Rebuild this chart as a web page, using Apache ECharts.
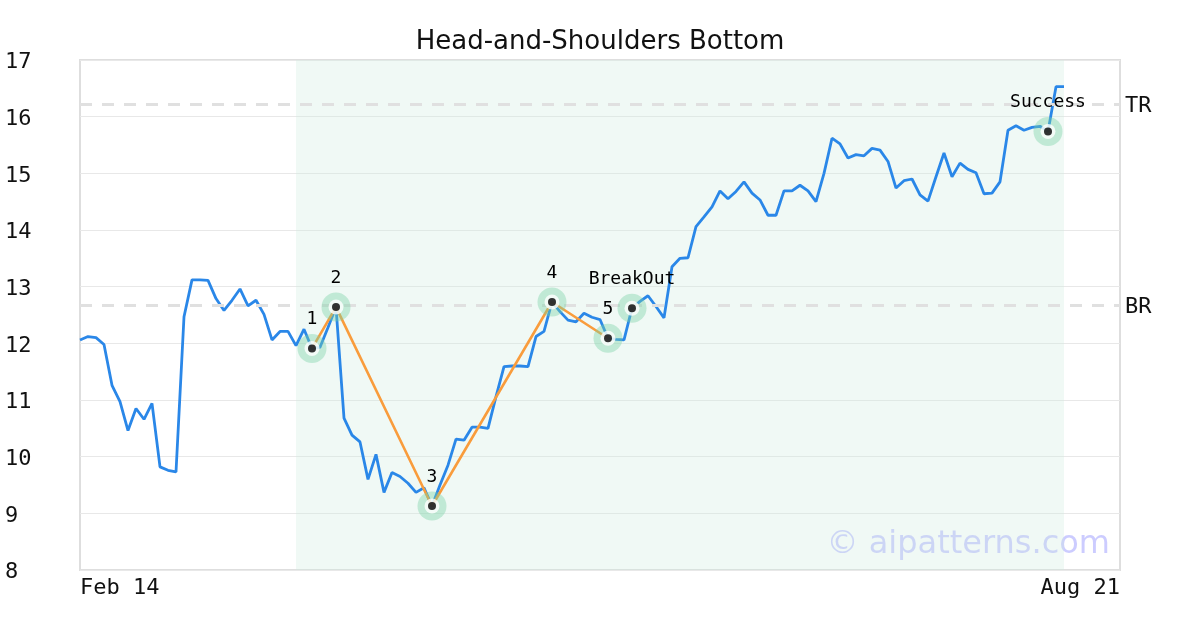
<!DOCTYPE html>
<html>
<head>
<meta charset="utf-8">
<script src="https://cdn.jsdelivr.net/npm/echarts@6/dist/echarts.min.js"></script>
<style>html,body{margin:0;padding:0;background:#fff}#c{width:1200px;height:630px}</style>
</head>
<body>
<div id="c"></div>
<script>
// x positions are trading-day indices 0..130 (axis spans Feb 14 .. Aug 21)
var xTickLabels = ['Feb 14', 'Aug 21'];
var xMax = 130;
var yMin = 8, yMax = 17;

var prices = [
  12.06, 12.12, 12.10, 11.98, 11.26, 10.97, 10.46, 10.85, 10.66, 10.94,
  9.82, 9.76, 9.73, 12.47, 13.12, 13.12, 13.11, 12.79, 12.58, 12.76,
  12.96, 12.66, 12.76, 12.51, 12.06, 12.21, 12.21, 11.96, 12.25, 11.91,
  11.93, 12.28, 12.64, 10.68, 10.38, 10.26, 9.60, 10.04, 9.37, 9.72,
  9.65, 9.53, 9.37, 9.45, 9.13, 9.50, 9.85, 10.31, 10.29, 10.52,
  10.52, 10.50, 11.06, 11.59, 11.60, 11.60, 11.59, 12.12, 12.21, 12.73,
  12.56, 12.41, 12.38, 12.53, 12.46, 12.42, 12.09, 12.07, 12.06, 12.62,
  12.74, 12.84, 12.65, 12.45, 13.35, 13.50, 13.51, 14.06, 14.23, 14.41,
  14.69, 14.55, 14.68, 14.85, 14.65, 14.53, 14.26, 14.26, 14.69, 14.69,
  14.79, 14.69, 14.50, 15.00, 15.62, 15.52, 15.27, 15.33, 15.31, 15.44,
  15.41, 15.21, 14.74, 14.87, 14.90, 14.62, 14.51, 14.94, 15.36, 14.94,
  15.18, 15.07, 15.01, 14.64, 14.65, 14.85, 15.76, 15.84, 15.76, 15.81,
  15.83, 15.74, 16.53, 16.53
];

var patternIdx = [29, 32, 44, 59, 66];
var keyIdx = [29, 32, 44, 59, 66, 69, 121];
var keyLabels = ['1', '2', '3', '4', '5', 'BreakOut', 'Success'];
var shadeRange = [27, 123];
var levelNames = ['TR', 'BR'];
var levelValues = [16.22, 12.68];

var mono = 'DejaVu Sans Mono';
var lineData = prices.map(function (v, i) { return [i, v]; });
var patternData = patternIdx.map(function (i) { return [i, prices[i]]; });
var keyPoints = keyIdx.map(function (i) { return [i, prices[i]]; });
var keyData = keyIdx.map(function (i, k) { return { value: [i, prices[i]], label: { formatter: keyLabels[k] } }; });
var shiftedText = { t: { padding: [5, 0, 0, 0], fontFamily: mono, fontSize: 22, color: '#111' } };

var chart = echarts.init(document.getElementById('c'), null, { renderer: 'canvas' });
chart.setOption({
  animation: false,
  backgroundColor: '#fff',
  title: {
    text: 'Head-and-Shoulders Bottom',
    left: 'center',
    top: 24,
    textStyle: { fontFamily: 'DejaVu Sans', fontSize: 26, fontWeight: 'normal', color: '#111' }
  },
  grid: {
    left: 80, right: 80, top: 60, bottom: 60,
    show: true, borderColor: '#dedede', borderWidth: 2, backgroundColor: 'transparent'
  },
  xAxis: {
    type: 'value', min: 0, max: xMax, interval: xMax,
    axisLine: { show: false }, axisTick: { show: false }, splitLine: { show: false },
    axisLabel: {
      margin: 7, fontFamily: mono, fontSize: 22, color: '#111',
      alignMinLabel: 'left', alignMaxLabel: 'right',
      formatter: function (v) { return v === 0 ? xTickLabels[0] : (v === xMax ? xTickLabels[1] : ''); }
    }
  },
  yAxis: {
    type: 'value', min: yMin, max: yMax, interval: 1,
    axisLine: { show: false }, axisTick: { show: false },
    splitLine: { show: true, lineStyle: { color: '#e8e8e8', width: 1 } },
    axisLabel: { margin: 75, align: 'left', fontFamily: mono, fontSize: 22, color: '#111',
      formatter: function (v) { return '{t|' + v + '}'; }, rich: shiftedText }
  },
  graphic: [{
    type: 'text', right: 90, top: 529, z: 0,
    style: { text: '\u00a9 aipatterns.com', font: '32px "DejaVu Sans"', fill: 'rgba(110,110,255,0.35)' }
  }],
  series: [
    {
      type: 'line', data: lineData, symbol: 'none', z: 3,
      lineStyle: { color: '#2a87e8', width: 2.8 },
      markArea: {
        silent: true,
        itemStyle: { color: 'rgba(205,236,222,0.3)' },
        data: [[{ xAxis: shadeRange[0] }, { xAxis: shadeRange[1] }]]
      },
      markLine: {
        silent: true, symbol: 'none',
        lineStyle: { color: '#e0e0e0', width: 3, type: [12, 10] },
        label: { position: 'end', distance: 5, fontFamily: mono, fontSize: 22, color: '#111',
          formatter: function (p) { return '{t|' + p.name + '}'; }, rich: shiftedText },
        data: levelNames.map(function (n, k) { return { name: n, yAxis: levelValues[k] }; })
      }
    },
    {
      type: 'line', data: patternData, symbol: 'none', z: 4,
      lineStyle: { color: '#f99c3c', width: 2.6 }
    },
    {
      type: 'scatter', data: keyPoints, symbol: 'circle', symbolSize: 29, z: 5,
      itemStyle: { color: 'rgba(120,210,165,0.5)' }
    },
    {
      type: 'scatter', data: keyPoints, symbol: 'circle', symbolSize: 15, z: 6,
      itemStyle: { color: '#fff' }
    },
    {
      type: 'scatter', data: keyData, symbol: 'circle', symbolSize: 8, z: 7,
      itemStyle: { color: '#000' },
      label: { show: true, position: 'top', distance: 16, fontFamily: mono, fontSize: 18, color: '#000', opacity: 1 }
    }
  ]
});
</script>
</body>
</html>
